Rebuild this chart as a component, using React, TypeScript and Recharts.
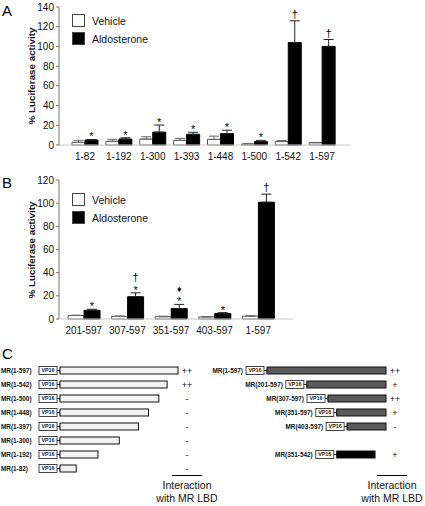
import React from 'react'
import { BarChart, Bar, XAxis, YAxis, ErrorBar, LabelList, Legend } from 'recharts'

// Panel A: MR deletion constructs
const A_CATEGORIES = ['1-82', '1-192', '1-300', '1-393', '1-448', '1-500', '1-542', '1-597']
const A_VEHICLE = [2.7, 3.7, 6, 4.7, 5.7, 1, 3.5, 2.3]
const A_VEHICLE_ERR = [2, 2, 2.4, 2, 3.3, 0.3, 1, 0.3]
const A_ALDO = [5, 6, 13, 10.8, 11.5, 3.4, 104, 100]
const A_ALDO_ERR = [0.6, 1.3, 7.3, 2.1, 3.5, 1.3, 22, 7]
const A_SIG = [['*'], ['*'], ['*'], ['*'], ['*'], ['*'], ['†'], ['†']]
const A_TICKS = [0, 20, 40, 60, 80, 100, 120, 140]

// Panel B: N-terminal deletions
const B_CATEGORIES = ['201-597', '307-597', '351-597', '403-597', '1-597']
const B_VEHICLE = [3, 2.2, 2, 1.8, 2.5]
const B_VEHICLE_ERR = [0.3, 0.4, 0.4, 0.2, 0.3]
const B_ALDO = [7.5, 19.2, 9, 4.8, 100.8]
const B_ALDO_ERR = [0.9, 3.4, 3.6, 0.7, 7]
const B_SIG = [['*'], ['*', '†'], ['*', '♦'], ['*'], ['†']]
const B_TICKS = [0, 20, 40, 60, 80, 100, 120]

const SERIES_NAMES = ['Vehicle', 'Aldosterone']

// Panel C: two-hybrid constructs (amino acid ranges)
const FULL_LENGTH = 597
const C_LEFT_LABELS = ['MR(1-597)', 'MR(1-542)', 'MR(1-500)', 'MR(1-448)', 'MR(1-397)', 'MR(1-300)', 'MR(1-192)', 'MR(1-82)']
const C_LEFT_START = [1, 1, 1, 1, 1, 1, 1, 1]
const C_LEFT_END = [597, 542, 500, 448, 397, 300, 192, 82]
const C_LEFT_INTERACTION = ['++', '++', '-', '-', '-', '-', '-', '-']

const C_RIGHT_LABELS = ['MR(1-597)', 'MR(201-597)', 'MR(307-597)', 'MR(351-597)', 'MR(403-597)', '', 'MR(351-542)', '']
const C_RIGHT_START = [1, 201, 307, 351, 403, null, 351, null]
const C_RIGHT_END = [597, 597, 597, 597, 597, null, 542, null]
const C_RIGHT_INTERACTION = ['++', '+', '++', '+', '-', '', '+', '']

const FONT = '"Liberation Sans", Arial, Helvetica, sans-serif'

const aData = A_CATEGORIES.map((name, i) => ({
  name,
  vehicle: A_VEHICLE[i],
  vehicleErr: [0, A_VEHICLE_ERR[i]],
  aldo: A_ALDO[i],
  aldoErr: [0, A_ALDO_ERR[i]],
  sig: A_SIG[i].join(''),
}))

const bData = B_CATEGORIES.map((name, i) => ({
  name,
  vehicle: B_VEHICLE[i],
  vehicleErr: [0, B_VEHICLE_ERR[i]],
  aldo: B_ALDO[i],
  aldoErr: [0, B_ALDO_ERR[i]],
  sig: B_SIG[i].join(''),
}))

const buildConstructs = (labels: string[], starts: (number | null)[], ends: (number | null)[], inter: string[]) =>
  labels.map((label, i) => ({
    label,
    start: starts[i],
    end: ends[i],
    span: starts[i] == null ? null : [(starts[i] as number) - 1, ends[i]],
    interaction: inter[i],
  }))

const cLeftData = buildConstructs(C_LEFT_LABELS, C_LEFT_START, C_LEFT_END, C_LEFT_INTERACTION)
const cRightData = buildConstructs(C_RIGHT_LABELS, C_RIGHT_START, C_RIGHT_END, C_RIGHT_INTERACTION)

// symbols sit above the error bar; bar height/value gives px per unit
const makeSigLabel = (values: number[], errs: number[], sigs: string[][]) => (props: any) => {
  const { x, y, width, height, index } = props
  const sig = sigs[index]
  if (!sig || !sig.length) return null
  const ppu = height / values[index]
  const errTop = y - errs[index] * ppu
  const cx = x + width / 2
  return (
    <g>
      {sig.map((s, i) => (
        <text
          key={i}
          x={cx}
          y={errTop - 3 - i * 9 + (s === '*' ? 4 : 0)}
          textAnchor="middle"
          fontSize={s === '♦' ? 9 : 11}
          fill="#000"
        >
          {s}
        </text>
      ))}
    </g>
  )
}

const renderLegend = (props: any) => {
  const items = (props.payload || [])
    .slice()
    .sort((a: any, b: any) => SERIES_NAMES.indexOf(a.value) - SERIES_NAMES.indexOf(b.value))
  return (
    <div style={{ display: 'flex', flexDirection: 'column', gap: 5, fontFamily: FONT }}>
      {items.map((item: any) => (
        <div key={item.value} style={{ display: 'flex', alignItems: 'center', height: 13 }}>
          <span
            style={{
              display: 'inline-block',
              width: 11,
              height: 11,
              background: item.color,
              border: '1px solid #444',
              marginRight: 7,
            }}
          />
          <span style={{ fontSize: 10.5, color: '#111' }}>{item.value}</span>
        </div>
      ))}
    </div>
  )
}

const yLabel = (cy: number) => () => (
  <text
    x={31}
    y={cy}
    transform={`rotate(-90 31 ${cy})`}
    textAnchor="middle"
    dominantBaseline="central"
    fontSize={9.8}
    fontWeight="bold"
    fill="#111"
  >
    % Luciferase activity
  </text>
)

const ActivityChart = ({ data, ticks, max, values, errs, sigs, width, height, top, plotHeight, right, padding, barSize, labelCy, legendTop }: any) => (
  <BarChart
    width={width}
    height={height}
    data={data}
    margin={{ top, right, bottom: 0, left: 19 }}
    barGap={0}
    barSize={barSize}
  >
    <XAxis
      dataKey="name"
      interval={0}
      tickSize={0}
      tickMargin={8}
      height={height - top - plotHeight}
      padding={padding}
      axisLine={{ stroke: '#c8c8c8' }}
      tick={{ fontSize: 10, fill: '#111' }}
    />
    <YAxis
      domain={[0, max]}
      ticks={ticks}
      interval={0}
      width={40}
      tickSize={3}
      tickMargin={2}
      axisLine={{ stroke: '#777' }}
      tickLine={{ stroke: '#777' }}
      tick={{ fontSize: 10, fill: '#111' }}
      label={{ content: yLabel(labelCy) }}
    />
    <Legend
      layout="vertical"
      align="center"
      verticalAlign="middle"
      content={renderLegend}
      wrapperStyle={{ left: 72, top: legendTop, width: 'auto' }}
    />
    <Bar dataKey="vehicle" name="Vehicle" fill="#ffffff" stroke="#555" strokeWidth={1} isAnimationActive={false}>
      <ErrorBar dataKey="vehicleErr" direction="y" width={5} stroke="#666" strokeWidth={1} isAnimationActive={false} />
    </Bar>
    <Bar dataKey="aldo" name="Aldosterone" fill="#000000" stroke="#000" strokeWidth={1} isAnimationActive={false}>
      <ErrorBar dataKey="aldoErr" direction="y" width={5} stroke="#222" strokeWidth={1} isAnimationActive={false} />
      <LabelList dataKey="sig" content={makeSigLabel(values, errs, sigs)} />
    </Bar>
  </BarChart>
)

const ConstructShape = (props: any) => {
  const { x, y, width, height, payload, side, labelLeft } = props
  if (!payload || !payload.label || payload.start == null) return null
  const cy = y + height / 2
  const boxW = 18
  const boxH = 8
  const gap = 3
  const boxX = x - gap - boxW
  const aaPx = width / (payload.end - payload.start + 1)
  const fullEndX = x + (FULL_LENGTH - payload.start + 1) * aaPx
  const truncated = payload.end < FULL_LENGTH
  const fill = side === 'left' ? '#f3f3f3' : truncated ? '#000' : '#5a5a5a'
  return (
    <g>
      <text
        x={side === 'left' ? labelLeft : boxX - 3}
        y={cy}
        dy="0.35em"
        textAnchor={side === 'left' ? 'start' : 'end'}
        fontSize={6.4}
        fontWeight="bold"
        fill="#111"
      >
        {payload.label}
      </text>
      <rect x={boxX} y={cy - boxH / 2} width={boxW} height={boxH} fill="#fff" stroke="#333" strokeWidth={0.9} />
      <text x={boxX + boxW / 2} y={cy} dy="0.36em" textAnchor="middle" fontSize={5.4} fontWeight="bold" fill="#222">
        VP16
      </text>
      <line x1={boxX + boxW} x2={x} y1={cy} y2={cy} stroke="#333" strokeWidth={1} />
      <line x1={x} x2={x} y1={cy - 2} y2={cy + 2} stroke="#333" strokeWidth={1} />
      <rect x={x} y={y} width={width} height={height} fill={fill} stroke="#111" strokeWidth={1} />
      <text x={fullEndX + 9} y={cy} dy="0.35em" textAnchor="middle" fontSize={9} fill="#111">
        {payload.interaction}
      </text>
    </g>
  )
}

const ConstructChart = ({ data, width, marginLeft, marginRight, side, labelLeft }: any) => (
  <BarChart
    width={width}
    height={112}
    data={data}
    layout="vertical"
    margin={{ top: 0, right: marginRight, bottom: 0, left: marginLeft }}
    barSize={7}
  >
    <XAxis type="number" domain={[0, FULL_LENGTH]} hide />
    <YAxis type="category" dataKey="label" hide />
    <Bar
      dataKey="span"
      isAnimationActive={false}
      shape={(p: any) => <ConstructShape {...p} side={side} labelLeft={labelLeft} />}
    />
  </BarChart>
)

const Caption = ({ center }: { center: number }) => (
  <>
    <div style={{ position: 'absolute', left: center - 15, top: 475, width: 30, borderTop: '1.5px solid #000' }} />
    <div
      style={{
        position: 'absolute',
        left: center - 40,
        top: 479,
        width: 80,
        textAlign: 'center',
        fontSize: 10.5,
        lineHeight: '13px',
        color: '#111',
      }}
    >
      Interaction
      <br />
      with MR LBD
    </div>
  </>
)

const PanelLetter = ({ text, top }: { text: string; top: number }) => (
  <div style={{ position: 'absolute', left: 2, top, fontSize: 15, lineHeight: '15px', color: '#000' }}>{text}</div>
)

export default function App() {
  return (
    <div
      style={{
        position: 'absolute',
        left: 0,
        top: 0,
        width: 425,
        height: 506,
        background: '#fff',
        fontFamily: FONT,
        overflow: 'hidden',
      }}
    >
      <div style={{ position: 'absolute', left: 0, top: 0 }}>
        <ActivityChart
          data={aData}
          ticks={A_TICKS}
          max={140}
          values={A_ALDO}
          errs={A_ALDO_ERR}
          sigs={A_SIG}
          width={425}
          height={165}
          top={7}
          plotHeight={138}
          right={75}
          padding={{ left: 9, right: 11 }}
          barSize={13}
          labelCy={76}
          legendTop={14}
        />
      </div>
      <div style={{ position: 'absolute', left: 0, top: 165 }}>
        <ActivityChart
          data={bData}
          ticks={B_TICKS}
          max={120}
          values={B_ALDO}
          errs={B_ALDO_ERR}
          sigs={B_SIG}
          width={425}
          height={176}
          top={15}
          plotHeight={139}
          right={132}
          padding={{ left: 3, right: 13 }}
          barSize={16}
          labelCy={85}
          legendTop={28}
        />
      </div>
      <div style={{ position: 'absolute', left: 0, top: 363 }}>
        <ConstructChart data={cLeftData} width={212} marginLeft={60} marginRight={34} side="left" labelLeft={1} />
      </div>
      <div style={{ position: 'absolute', left: 182, top: 363 }}>
        <ConstructChart data={cRightData} width={243} marginLeft={85} marginRight={39} side="right" labelLeft={0} />
      </div>
      <Caption center={187} />
      <Caption center={392} />
      <PanelLetter text="A" top={3} />
      <PanelLetter text="B" top={175} />
      <PanelLetter text="C" top={346} />
    </div>
  )
}
